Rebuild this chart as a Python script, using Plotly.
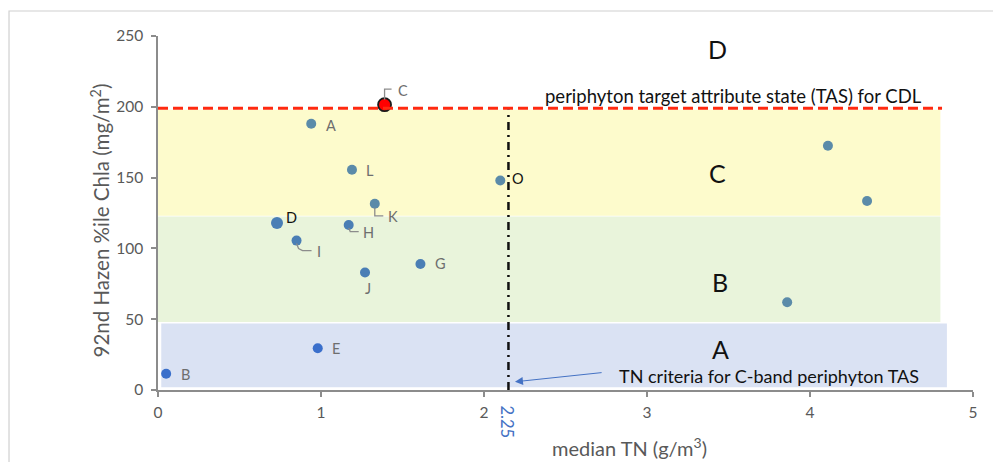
import plotly.graph_objects as go

# ---------------- data ----------------
sites = ["A", "B", "C", "D", "E", "G", "H", "I", "J", "K", "L", "O", "", "", ""]
median_tn = [0.94, 0.05, 1.39, 0.73, 0.98, 1.61, 1.17, 0.85, 1.27, 1.33, 1.19, 2.10, 4.11, 4.35, 3.86]
chla_92 = [188, 11.5, 201.5, 118, 29.5, 89, 116.5, 105.5, 83, 131.5, 155.5, 148, 172.5, 133.5, 62]

band_names = ["A", "B", "C"]
band_low = [2, 48, 123]
band_high = [47, 122.5, 198]
band_x_start = [0.02, 0.0, 0.0]
band_x_end = [4.84, 4.80, 4.80]

band_label_names = ["D", "C", "B", "A"]
band_label_x = [3.43, 3.43, 3.45, 3.45]
band_label_y = [241, 153, 76.5, 28.7]

tas_chla = 199
tas_x_end = 4.81
tn_criteria_line = 2.15
tn_criteria_label = "2.25"

x_ticks = [0, 1, 2, 3, 4, 5]
y_ticks = [0, 50, 100, 150, 200, 250]

# ---------------- styles ----------------
FONT = "Lato, 'Open Sans', sans-serif"
GREY_TXT = "#595959"
band_colors = {"A": "#DAE2F3", "B": "#E9F4DB", "C": "#FDFBCC"}

marker_style = {
    "A": ("#5B8BA9", 10), "L": ("#5B8BA9", 10), "K": ("#5B8BA9", 10), "O": ("#5B8BA9", 10),
    "D": ("#4A7EB5", 12), "H": ("#4A7EB5", 10), "I": ("#4A7EB5", 10), "J": ("#4A7EB5", 10),
    "G": ("#4A7EB5", 10), "E": ("#3A6FCB", 10), "B": ("#3A6FCB", 10), "": ("#5B8BA9", 10),
}
# label offsets in screen pixels (dx right, dy down)
label_offsets = {
    "A": (20, 2), "B": (19, 1), "C": (18, -14.5), "D": (15, -5.5), "E": (18.5, 0),
    "G": (20, 0), "H": (20, 7.5), "I": (22.5, 11), "J": (3, 16), "K": (18.5, 13),
    "L": (18, 1), "O": (18, -2),
}
dark_labels = {"D", "O"}
# leader lines (screen pixel offsets from the point)
leaders = {
    "C": [(0, -5), (0, -15.5), (7, -15.5)],
    "K": [(0, 4), (0, 12), (8.5, 12)],
    "H": [(0, 3), (1.5, 6.5), (10, 6.5)],
    "I": [(0, 3), (2, 8), (6, 10), (15, 10)],
}

fig = go.Figure()

shapes = []
# bands
for name, lo, hi, xs, xe in zip(band_names, band_low, band_high, band_x_start, band_x_end):
    shapes.append(dict(type="rect", xref="x", yref="y", x0=xs, x1=xe, y0=lo, y1=hi,
                       fillcolor=band_colors[name], line=dict(width=0), layer="below"))

# outer frame
shapes.append(dict(type="rect", xref="paper", yref="paper", x0=-0.1828, x1=1.03,
                   y0=-0.25, y1=1.0706, line=dict(color="#D0D0D0", width=1.2),
                   fillcolor="rgba(0,0,0,0)", layer="below"))

# TAS line
shapes.append(dict(type="line", xref="x", yref="y", x0=0, x1=tas_x_end, y0=tas_chla, y1=tas_chla,
                   line=dict(color="#FF2A10", width=3, dash="10px,5px")))
# TN criteria line
shapes.append(dict(type="line", xref="x", yref="y", x0=tn_criteria_line, x1=tn_criteria_line,
                   y0=0, y1=tas_chla - 1,
                   line=dict(color="#111111", width=2.5, dash="8px,5px,2px,5px")))

# leader lines
for s, pts in leaders.items():
    i = sites.index(s)
    path = "M" + " L".join(f"{dx},{-dy}" for dx, dy in pts)
    shapes.append(dict(type="path", xref="x", yref="y", xsizemode="pixel", ysizemode="pixel",
                       xanchor=median_tn[i], yanchor=chla_92[i], path=path,
                       line=dict(color="#8C8C8C", width=1.3)))

# markers (one trace per style)
groups = {}
for s, x, y in zip(sites, median_tn, chla_92):
    if s == "C":
        continue
    col, sz = marker_style[s]
    groups.setdefault((col, sz), ([], [], []))
    groups[(col, sz)][0].append(x)
    groups[(col, sz)][1].append(y)
    groups[(col, sz)][2].append(s)
for (col, sz), (xs, ys, ss) in groups.items():
    fig.add_trace(go.Scatter(x=xs, y=ys, mode="markers", text=ss, showlegend=False,
                             marker=dict(color=col, size=sz, line=dict(width=0)),
                             cliponaxis=False))
ic = sites.index("C")
fig.add_trace(go.Scatter(x=[median_tn[ic]], y=[chla_92[ic]], mode="markers", showlegend=False,
                         marker=dict(color="#FF0000", size=13, line=dict(color="#1A1A1A", width=1.8)),
                         cliponaxis=False))

annotations = []
# point labels
for s, x, y in zip(sites, median_tn, chla_92):
    if not s:
        continue
    dx, dy = label_offsets[s]
    dark = s in dark_labels
    annotations.append(dict(x=x, y=y, xref="x", yref="y", text=s, showarrow=False,
                            xshift=dx, yshift=-dy, xanchor="center", yanchor="middle",
                            font=dict(family=FONT, size=14.5, color="#111111" if dark else "#6E6E6E")))

# band labels
for name, x, y in zip(band_label_names, band_label_x, band_label_y):
    annotations.append(dict(x=x, y=y, xref="x", yref="y", text=name, showarrow=False,
                            font=dict(family=FONT, size=25, color="#111111")))

annotations.append(dict(x=3.53, y=207.5, xref="x", yref="y", showarrow=False,
                        text="periphyton target attribute state (TAS) for CDL",
                        font=dict(family=FONT, size=18.5, color="#111111")))
annotations.append(dict(x=3.75, y=10, xref="x", yref="y", showarrow=False,
                        text="TN criteria for C-band periphyton TAS",
                        font=dict(family=FONT, size=18, color="#111111")))
# arrow
annotations.append(dict(x=2.19, y=5.8, xref="x", yref="y", ax=2.74, ay=12.5, axref="x", ayref="y",
                        text=" ", showarrow=True, arrowhead=2, arrowsize=1.6, arrowwidth=1,
                        arrowcolor="#4472C4"))
# 2.25 label
annotations.append(dict(x=tn_criteria_line, y=0, xref="x", yref="y", text=tn_criteria_label,
                        showarrow=False, textangle=90, yshift=-32, xshift=-1,
                        font=dict(family=FONT, size=16.5, color="#4472C4")))
# axis titles
annotations.append(dict(x=(629 - 158) / 815, y=-(446.5 - 390) / 354, xref="paper", yref="paper",
                        text="median TN (g/m<sup>3</sup>)", showarrow=False,
                        xanchor="center", yanchor="middle",
                        font=dict(family=FONT, size=20, color=GREY_TXT)))
annotations.append(dict(x=-(158 - 100) / 815, y=(390 - 220.5) / 354, xref="paper", yref="paper",
                        text="92nd Hazen %ile Chla (mg/m<sup>2</sup>)", showarrow=False,
                        textangle=-90, xanchor="center", yanchor="middle",
                        font=dict(family=FONT, size=20.5, color=GREY_TXT)))

fig.update_layout(
    width=993, height=462,
    margin=dict(l=158, r=20, t=36, b=72),
    paper_bgcolor="white", plot_bgcolor="white",
    shapes=shapes, annotations=annotations,
    font=dict(family=FONT, color=GREY_TXT),
    xaxis=dict(range=[0, 5], tickvals=x_ticks, showgrid=False, zeroline=False,
               showline=True, linecolor="#8C8C8C", linewidth=1.5,
               ticks="outside", ticklen=5, tickcolor="#8C8C8C", tickwidth=1.5,
               ticklabelstandoff=3,
               tickfont=dict(family=FONT, size=15.5, color=GREY_TXT)),
    yaxis=dict(range=[0, 250], tickvals=y_ticks, showgrid=False, zeroline=False,
               showline=True, linecolor="#8C8C8C", linewidth=1.5,
               ticks="outside", ticklen=5, tickcolor="#8C8C8C", tickwidth=1.5,
               ticklabelstandoff=5,
               tickfont=dict(family=FONT, size=15.5, color=GREY_TXT)),
)

fig.write_html("out.html")
